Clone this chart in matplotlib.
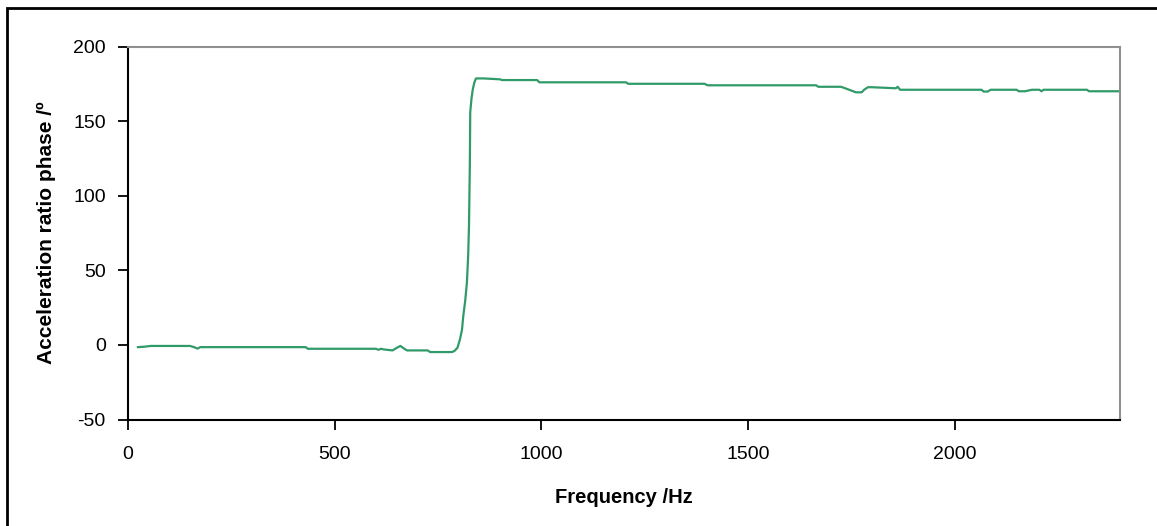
import matplotlib
matplotlib.use("Agg")
import matplotlib.pyplot as plt
from matplotlib.patches import Rectangle

plt.rcParams['font.family'] = ['Liberation Sans', 'DejaVu Sans']
plt.rcParams['axes.unicode_minus'] = False

# ---------- data ----------
freq = [24, 40, 55, 150, 160, 168, 175, 300, 430, 435, 600, 606, 612, 618,
        640, 650, 659, 668, 675, 725, 731, 784, 790, 797, 803, 808, 811, 816,
        820, 823, 825, 827, 828, 831, 834, 838, 842, 860, 900, 905, 990, 995,
        1205, 1210, 1395, 1402, 1665, 1670, 1725, 1740, 1761, 1775, 1781, 1790,
        1800, 1858, 1862, 1868, 1877, 2065, 2070, 2080, 2087, 2150, 2155, 2170,
        2187, 2205, 2210, 2215, 2320, 2325, 2396]
phase = [-1.5, -1.2, -0.7, -0.7, -1.5, -2.5, -1.5, -1.5, -1.5, -2.6, -2.6, -3.3,
         -2.6, -3.0, -3.7, -2.0, -0.7, -2.5, -3.7, -3.7, -4.8, -4.8, -4.0, -2.0,
         3.6, 10, 19, 30, 42, 60, 80, 120, 156, 165, 171, 176, 178.6, 178.6,
         178, 177.5, 177.5, 176, 176, 175, 175, 174, 174, 173, 173, 171.5, 169.3,
         169.3, 171, 172.7, 172.7, 172, 173, 171, 171, 171, 169.8, 169.8, 171,
         171, 170, 170, 171, 171, 170, 171, 171, 170, 170]

x_ticks = [0, 500, 1000, 1500, 2000]
y_ticks = [-50, 0, 50, 100, 150, 200]

W, H = 1157, 526
fig = plt.figure(figsize=(W / 100, H / 100), dpi=100)

# outer chart border (only top and left visible in the reference)
fig.patches.append(Rectangle((7 / W, -0.1), 1.2, 1 - 8 / H + 0.1,
                             transform=fig.transFigure, fill=False,
                             edgecolor='black', linewidth=2))

ax = fig.add_axes([128 / W, (H - 419.5) / H, (1120 - 128) / W, (419.5 - 46.5) / H])
ax.plot(freq, phase, color='#309B69', linewidth=1.6)

ax.set_xlim(0, 2400)
ax.set_ylim(-50, 200)
ax.set_xticks(x_ticks)
ax.set_yticks(y_ticks)
ax.tick_params(direction='out', length=7, width=1.3, labelsize=14,
               color='black')
ax.tick_params(axis='x', pad=12)
ax.tick_params(axis='y', pad=9)

for side in ['left', 'bottom']:
    ax.spines[side].set_color('black')
    ax.spines[side].set_linewidth(1.5)
for side in ['top', 'right']:
    ax.spines[side].set_color('#909090')
    ax.spines[side].set_linewidth(1.5)

ax.set_xlabel('Frequency /Hz', fontsize=14.5, fontweight='bold', labelpad=18)
ax.set_ylabel('Acceleration ratio phase /º', fontsize=15, fontweight='bold',
              labelpad=12)

fig.savefig('out.png', dpi=100)
